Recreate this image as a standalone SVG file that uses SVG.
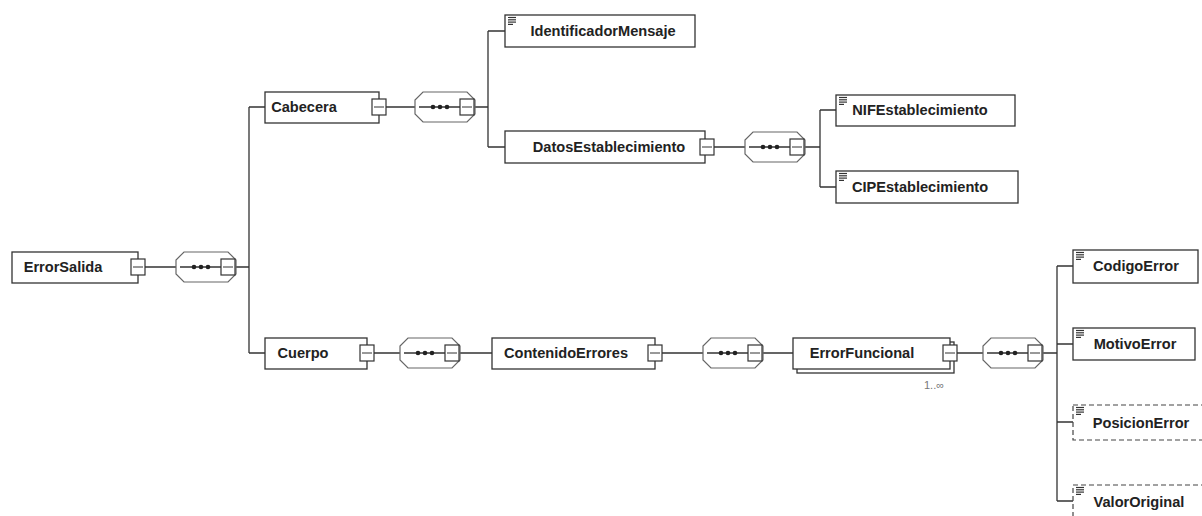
<svg xmlns="http://www.w3.org/2000/svg" width="1202" height="516" viewBox="0 0 1202 516">
<style>
.bg{fill:#fff}
.box{fill:#fff;stroke:#333;stroke-width:1.3}
.opt{fill:#fff;stroke:#444;stroke-width:1.2;stroke-dasharray:5,3}
.shadow{fill:#fff;stroke:#333;stroke-width:1.3}
.oct{fill:#fff;stroke:#666;stroke-width:1.2}
.mb{fill:#fff;stroke:#333;stroke-width:1.2}
.mline{stroke:#333;stroke-width:1}
.conn{fill:none;stroke:#333;stroke-width:1.3}
.lbl{font-family:"Liberation Sans",Arial,sans-serif;font-weight:bold;font-size:14.6px;fill:#222;text-anchor:middle}
.card{font-family:"Liberation Sans",Arial,sans-serif;font-size:11px;fill:#777}
.ico{stroke:#333;stroke-width:1.2}
</style>
<defs>
<g id="minus"><rect class="mb" x="0" y="0" width="14" height="16"/><line class="mline" x1="2" y1="8" x2="12" y2="8"/></g>
<g id="seq">
<polygon class="oct" points="8,0 52,0 60,8 60,22 52,30 8,30 0,22 0,8"/>
<line class="conn" x1="4" y1="15" x2="46" y2="15"/>
<circle cx="18" cy="15" r="2.3" fill="#222"/><circle cx="25" cy="15" r="2.3" fill="#222"/><circle cx="32" cy="15" r="2.3" fill="#222"/>
<use href="#minus" x="45" y="7"/>
</g>
<g id="icon"><line class="ico" x1="3" y1="2.5" x2="11" y2="2.5"/><line class="ico" x1="3" y1="4.8" x2="11" y2="4.8"/><line class="ico" x1="3" y1="7.1" x2="11" y2="7.1"/><line class="ico" x1="3" y1="9.4" x2="8" y2="9.4"/></g>
</defs>
<rect class="bg" x="0" y="0" width="1202" height="516"/>

<g id="connectors">
<path class="conn" d="M145,267 H176 M235,267 H249 M249,107 V353 M249,107 H265 M249,353 H265"/>
<path class="conn" d="M386,107 H415 M474,107 H488 M488,31 V147 M488,31 H505 M488,147 H505"/>
<path class="conn" d="M714,147 H745 M804,147 H820 M820,110 V187 M820,110 H836 M820,187 H836"/>
<path class="conn" d="M374,353 H400 M459,353 H492 M662,353 H703 M762,353 H793 M957,353 H983 M1042,353 H1057"/>
<path class="conn" d="M1057,266 V501 M1057,266 H1073 M1057,344 H1073 M1057,422 H1073 M1057,501 H1073"/>
</g>

<g id="ErrorSalida">
<rect class="box" x="12" y="252" width="126" height="31"/>
<text class="lbl" x="63" y="272">ErrorSalida</text>
<use href="#minus" x="131" y="259"/>
</g>
<g id="seq1"><use href="#seq" x="176" y="252"/></g>

<g id="Cabecera">
<rect class="box" x="265" y="92" width="114" height="31"/>
<text class="lbl" x="304" y="112">Cabecera</text>
<use href="#minus" x="372" y="99"/>
</g>
<g id="seq2"><use href="#seq" x="415" y="92"/></g>

<g id="IdentificadorMensaje">
<rect class="box" x="505" y="15" width="190" height="32"/>
<use href="#icon" x="505" y="15"/>
<text class="lbl" x="603" y="36">IdentificadorMensaje</text>
</g>

<g id="DatosEstablecimiento">
<rect class="box" x="505" y="131" width="200" height="32"/>
<text class="lbl" x="609" y="152">DatosEstablecimiento</text>
<use href="#minus" x="700" y="139"/>
</g>
<g id="seq3"><use href="#seq" x="745" y="132"/></g>

<g id="NIFEstablecimiento">
<rect class="box" x="836" y="95" width="179" height="31"/>
<use href="#icon" x="836" y="95"/>
<text class="lbl" x="920" y="115">NIFEstablecimiento</text>
</g>

<g id="CIPEstablecimiento">
<rect class="box" x="836" y="171" width="182" height="32"/>
<use href="#icon" x="836" y="171"/>
<text class="lbl" x="920" y="192">CIPEstablecimiento</text>
</g>

<g id="Cuerpo">
<rect class="box" x="265" y="338" width="102" height="31"/>
<text class="lbl" x="303" y="358">Cuerpo</text>
<use href="#minus" x="360" y="345"/>
</g>
<g id="seq4"><use href="#seq" x="400" y="338"/></g>

<g id="ContenidoErrores">
<rect class="box" x="492" y="338" width="163" height="31"/>
<text class="lbl" x="566" y="358">ContenidoErrores</text>
<use href="#minus" x="648" y="345"/>
</g>
<g id="seq5"><use href="#seq" x="703" y="338"/></g>

<g id="ErrorFuncional">
<rect class="shadow" x="797" y="342" width="157" height="31"/>
<rect class="box" x="793" y="338" width="157" height="31"/>
<text class="lbl" x="862" y="358">ErrorFuncional</text>
<use href="#minus" x="943" y="345"/>
<text class="card" x="924" y="389">1..∞</text>
</g>
<g id="seq6"><use href="#seq" x="983" y="338"/></g>

<g id="CodigoError">
<rect class="box" x="1073" y="250" width="125" height="33"/>
<use href="#icon" x="1073" y="250"/>
<text class="lbl" x="1136" y="271">CodigoError</text>
</g>

<g id="MotivoError">
<rect class="box" x="1073" y="328" width="122" height="32"/>
<use href="#icon" x="1073" y="328"/>
<text class="lbl" x="1135" y="349">MotivoError</text>
</g>

<g id="PosicionError">
<rect class="opt" x="1073" y="405" width="140" height="35"/>
<use href="#icon" x="1073" y="405"/>
<text class="lbl" x="1141" y="428">PosicionError</text>
</g>

<g id="ValorOriginal">
<rect class="opt" x="1073" y="485" width="140" height="40"/>
<use href="#icon" x="1073" y="485"/>
<text class="lbl" x="1139" y="507">ValorOriginal</text>
</g>
</svg>
